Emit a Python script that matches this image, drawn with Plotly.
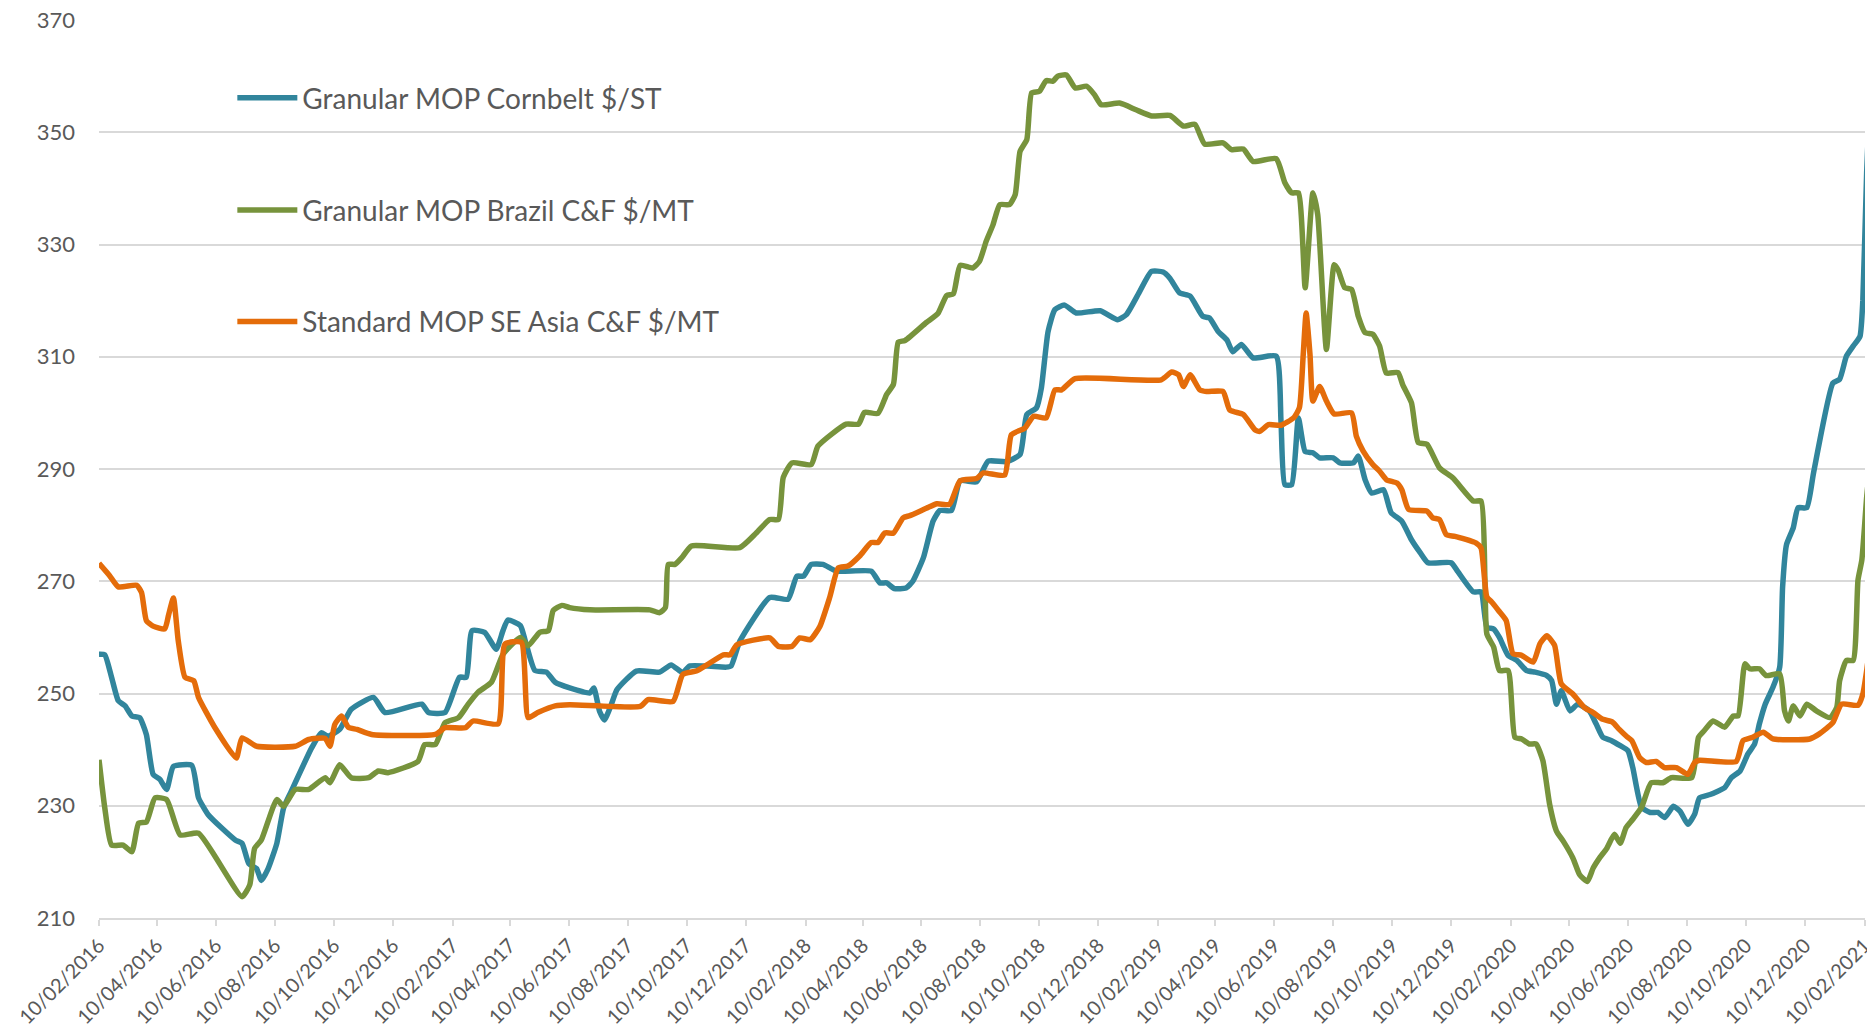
import pandas as pd
import plotly.graph_objects as go

BASE_DATE = "2016-02-10"

# ---- Granular MOP Cornbelt $/ST (days since 10/02/2016, value) ----
cornbelt_days = [0, 6, 13, 20, 27, 34, 42, 49, 56, 63, 70, 77, 96, 103, 113, 141, 148, 155, 163, 168, 175, 184, 191, 199,
                 220, 230, 237, 249, 261, 284, 296, 334, 341, 358, 373, 380, 386, 399, 411, 418, 423, 436, 441, 451, 463,
                 472, 487, 508, 512, 518, 523, 530, 536, 556, 580, 592, 604, 611, 649, 654, 663, 694, 713, 722, 729, 737,
                 749, 763, 799, 808, 815, 823, 835, 842, 853, 863, 870, 882, 891, 908, 920, 939, 953, 960, 970, 975, 982,
                 989, 999, 1011, 1036, 1054, 1063, 1077, 1089, 1101, 1108, 1118, 1129, 1142, 1149, 1158, 1167, 1173, 1182,
                 1194, 1218, 1223, 1227, 1234, 1241, 1248, 1256, 1263, 1277, 1284, 1298, 1303, 1310, 1317, 1329, 1337,
                 1348, 1358, 1367, 1375, 1399, 1406, 1422, 1430, 1436, 1443, 1449, 1458, 1467, 1477, 1486, 1498, 1503,
                 1508, 1513, 1522, 1530, 1542, 1549, 1556, 1565, 1574, 1582, 1587, 1596, 1605, 1613, 1620, 1629, 1636,
                 1644, 1651, 1656, 1667, 1675, 1682, 1689, 1698, 1706, 1713, 1718, 1724, 1732, 1739, 1742, 1746, 1753,
                 1758, 1767, 1774, 1794, 1801, 1808, 1815, 1822, 1825, 1829, 1832]
cornbelt_vals = [257, 256.9, 252.9, 248.7, 247.8, 246, 245.7, 242.7, 235.6, 234.7, 232.9, 237, 237.2, 231.4, 228.4, 223.9,
                 223.3, 219.7, 218.8, 216.7, 218.8, 223.3, 229.6, 232.6, 240.3, 243, 242.4, 243.6, 247.2, 249.3, 246.6,
                 248.1, 246.6, 246.6, 252.9, 252.9, 261.2, 260.9, 257.9, 261.2, 263.1, 262.1, 259.4, 254.1, 253.8, 252,
                 251, 250.1, 251, 246.8, 245.3, 248, 250.7, 254, 253.8, 255.1, 253.7, 254.9, 254.7, 254.9, 259.3, 267.1,
                 266.8, 270.9, 270.9, 273, 273, 271.8, 271.8, 269.7, 269.7, 268.7, 268.8, 270, 274.2, 280.7, 282.6, 282.6,
                 287.9, 287.7, 291.4, 291.3, 292.6, 299.7, 300.9, 304.4, 314.5, 318.4, 319.2, 317.8, 318.2, 316.6, 317.5,
                 321.7, 325.2, 325.1, 324, 321.4, 320.8, 317.2, 316.9, 314.5, 313, 310.9, 312.2, 309.8, 310.1, 298.5,
                 287.2, 287.2, 299.1, 293.1, 292.9, 292, 292, 291.1, 291.1, 292.3, 288.1, 285.7, 286.3, 282.2, 280.7,
                 277.4, 275.1, 273.3, 273.3, 271.7, 268.1, 268.1, 261.8, 261.5, 260, 256.8, 255.9, 254.1, 253.8, 253.2,
                 252.3, 248.1, 250.5, 246.9, 248.1, 246.9, 244.6, 242.2, 241.6, 240.7, 239.8, 236.8, 229.7, 228.8, 228.8,
                 227.9, 229.9, 229, 226.7, 228.5, 231.4, 232, 232.6, 233.2, 235, 236.2, 239.2, 241, 244.6, 248.1, 251.1,
                 254.7, 269, 276.5, 279.5, 283.1, 283.1, 289.3, 305.3, 306, 310.1, 311.9, 313.6, 320, 343, 355]

# ---- Granular MOP Brazil C&F $/MT ----
brazil_days = [0, 6, 13, 25, 34, 41, 49, 58, 70, 84, 103, 148, 156, 161, 168, 184, 191, 203, 217, 234, 239, 249, 261, 279,
               289, 299, 330, 337, 348, 358, 372, 382, 392, 406, 418, 436, 444, 456, 465, 470, 479, 487, 508, 570, 580,
               586, 589, 596, 603, 613, 663, 680, 694, 703, 708, 717, 737, 744, 773, 786, 792, 806, 815, 822, 827, 834,
               856, 868, 877, 884, 891, 904, 911, 918, 925, 932, 942, 948, 953, 960, 965, 973, 980, 987, 992, 1001, 1010,
               1022, 1030, 1037, 1056, 1073, 1089, 1108, 1122, 1134, 1144, 1163, 1172, 1184, 1194, 1218, 1227, 1234,
               1241, 1248, 1256, 1261, 1270, 1278, 1282, 1289, 1296, 1303, 1310, 1318, 1325, 1332, 1344, 1349, 1358,
               1365, 1374, 1387, 1401, 1422, 1430, 1434, 1436, 1443, 1449, 1458, 1465, 1472, 1480, 1487, 1494, 1501,
               1508, 1515, 1525, 1532, 1540, 1546, 1553, 1560, 1568, 1574, 1580, 1587, 1596, 1606, 1618, 1627, 1648,
               1655, 1661, 1670, 1682, 1691, 1696, 1703, 1708, 1718, 1725, 1739, 1744, 1748, 1753, 1760, 1767, 1777,
               1791, 1798, 1801, 1808, 1815, 1820, 1824, 1829, 1832]
brazil_vals = [238.2, 229.6, 223, 223, 221.8, 226.9, 227.1, 231.4, 231.1, 224.8, 225.1, 213.8, 215.9, 222.4, 223.9, 231.1,
               229.9, 232.9, 232.9, 235, 234.1, 237.3, 235, 235, 236.2, 235.9, 237.9, 240.9, 240.9, 244.8, 245.7, 248.1,
               250.2, 252, 257, 260, 258.5, 260.9, 261.2, 264.8, 265.7, 265.3, 264.9, 264.9, 264.4, 265.3, 273, 273,
               274.2, 276.3, 276, 278.6, 281, 281, 288.5, 291.1, 290.8, 294.1, 298, 298, 300.1, 299.9, 303.3, 305.1,
               312.6, 312.9, 316.1, 317.7, 320.9, 321.2, 326.3, 325.8, 327, 330.6, 333.5, 337.1, 337.1, 338.9, 346.6,
               348.7, 357, 357.3, 359.2, 359.1, 360, 360.2, 357.9, 358.2, 356.7, 354.9, 355.2, 354, 352.9, 353, 351.1,
               351.4, 347.9, 348.1, 346.9, 347, 344.8, 345.3, 341, 339.2, 339.2, 322.3, 339.2, 335.3, 311.3, 326.4,
               325.5, 322.3, 322, 317.2, 314.3, 314, 311.9, 307.1, 307.2, 305, 301.8, 294.7, 294.4, 290.2, 288.4, 284.3,
               284.3, 270.2, 260.6, 258.3, 254.1, 254.1, 242.2, 241.9, 241, 241, 238, 230.2, 225.5, 223.7, 220.7, 217.7,
               216.5, 218.9, 220.8, 222.4, 224.9, 223.3, 226.1, 227.6, 229.7, 234.1, 234.1, 235, 235, 242.2, 243.4,
               245.1, 244, 246, 246, 255.3, 254.4, 254.4, 253.2, 253.5, 246.9, 245.1, 247.8, 246, 248.1, 246.9, 245.7,
               247.5, 252.3, 255.9, 255.9, 270.2, 273.8, 285, 290]

# ---- Standard MOP SE Asia C&F $/MT ----
seasia_days = [0, 11, 20, 39, 44, 49, 56, 68, 72, 77, 82, 89, 98, 103, 120, 142, 148, 163, 203, 217, 234, 239, 244, 251,
               258, 267, 282, 348, 358, 379, 387, 413, 420, 437, 444, 454, 472, 487, 560, 568, 594, 604, 618, 629, 646,
               653, 660, 694, 703, 717, 725, 736, 746, 756, 765, 775, 787, 799, 806, 813, 822, 832, 839, 856, 867, 880,
               891, 908, 915, 937, 944, 958, 967, 980, 989, 996, 1010, 1099, 1110, 1117, 1122, 1129, 1139, 1146, 1163,
               1170, 1184, 1196, 1201, 1210, 1223, 1236, 1242, 1246, 1249, 1253, 1256, 1263, 1270, 1278, 1296, 1301,
               1308, 1318, 1325, 1332, 1343, 1348, 1355, 1374, 1380, 1387, 1394, 1403, 1425, 1430, 1436, 1441, 1448,
               1456, 1463, 1472, 1484, 1491, 1498, 1506, 1513, 1525, 1537, 1546, 1556, 1566, 1573, 1581, 1586, 1594,
               1601, 1611, 1620, 1632, 1644, 1651, 1656, 1694, 1701, 1711, 1722, 1732, 1770, 1780, 1794, 1803, 1820,
               1825, 1829, 1832]
seasia_vals = [273.2, 271, 269, 269.3, 268, 263, 262, 261.5, 264, 267, 259.4, 252.9, 252.3, 249.3, 243.9, 238.5, 242.1,
               240.6, 240.6, 241.8, 242, 240.6, 244.5, 246, 244, 243.6, 242.7, 242.7, 243.9, 243.9, 245.1, 244.6, 258.8,
               259.1, 245.7, 246.6, 247.8, 248, 247.7, 248.9, 248.6, 253.4, 254, 255.1, 256.9, 256.9, 258.7, 259.9,
               258.4, 258.4, 259.9, 259.6, 262, 267.1, 272.4, 272.7, 274.5, 276.9, 276.9, 278.6, 278.6, 281.3, 281.7,
               283, 283.8, 283.7, 287.9, 288.3, 289.3, 288.9, 296.1, 297.3, 299.4, 299.1, 304.1, 304.1, 306.1, 305.9,
               307.3, 306.8, 304.7, 306.8, 304.1, 303.8, 303.8, 300.5, 299.7, 297, 296.7, 297.9, 297.8, 299.1, 300.9,
               310.4, 317.8, 310.4, 302.1, 304.7, 302.1, 299.8, 300, 295.8, 293.2, 290.8, 289.6, 288.1, 287.5, 286.3,
               282.8, 282.5, 281.3, 281, 278.3, 278, 276.8, 275.9, 267.2, 266.3, 264.8, 263, 257.1, 256.8, 255.6, 258.9,
               260.3, 258.6, 251.7, 249.9, 247.5, 246.6, 245.4, 244.9, 243.6, 242.3, 241.6, 238.6, 237.7, 237.9, 236.8,
               236.8, 235.6, 237.7, 238.1, 237.9, 241.6, 242.2, 243.1, 241.9, 241.9, 242.8, 244.8, 248.1, 247.9, 249.9,
               254.1, 258]

SERIES_NAMES = ["Granular MOP Cornbelt $/ST", "Granular MOP Brazil C&F $/MT", "Standard MOP SE Asia C&F $/MT"]
SERIES_COLORS = ["#31859C", "#77933C", "#E46C0A"]

Y_TICKS = [210, 230, 250, 270, 290, 310, 330, 350, 370]


def to_dates(days):
    return pd.Timestamp(BASE_DATE) + pd.to_timedelta(days, unit="D")


series = [(cornbelt_days, cornbelt_vals), (brazil_days, brazil_vals), (seasia_days, seasia_vals)]
legend_ids = ["legend", "legend2", "legend3"]

fig = go.Figure()
for (d, v), name, color, lg in zip(series, SERIES_NAMES, SERIES_COLORS, legend_ids):
    fig.add_trace(go.Scatter(
        x=to_dates(d), y=v, mode="lines", name=name,
        line=dict(color=color, width=5.5, shape="spline", smoothing=0.5),
        legend=lg, hoverinfo="skip",
    ))

FONT = "Lato"
TXT = "#595959"
legend_common = dict(
    xanchor="left", yanchor="middle", x=0.0755,
    font=dict(family=FONT, size=28, color=TXT),
    bgcolor="rgba(0,0,0,0)", itemwidth=60, tracegroupgap=0,
)

fig.update_layout(
    width=1867, height=1032,
    margin=dict(l=99, r=2, t=20, b=114),
    paper_bgcolor="white", plot_bgcolor="white",
    showlegend=True,
    legend=dict(y=0.913, **legend_common),
    legend2=dict(y=0.788, **legend_common),
    legend3=dict(y=0.664, **legend_common),
    xaxis=dict(
        type="date",
        range=[pd.Timestamp("2016-02-10"), pd.Timestamp("2021-02-10 06:00")],
        tick0="2016-02-10", dtick="M2", tickformat="%d/%m/%Y",
        tickangle=-45, ticklabeloverflow="allow",
        tickfont=dict(family=FONT, size=20, color=TXT),
        showgrid=False,
        showline=True, linecolor="#d9d9d9", linewidth=2,
        ticks="outside", ticklen=6, tickcolor="#d9d9d9", tickwidth=2,
        zeroline=False, automargin=False,
    ),
    yaxis=dict(
        range=[210, 370], tickvals=Y_TICKS,
        tickfont=dict(family=FONT, size=22, color=TXT),
        showgrid=True, gridcolor="#d9d9d9", gridwidth=2,
        showline=False, zeroline=False, ticks="",
        ticklabelstandoff=23, automargin=False,
    ),
)

fig.write_html(
    "out.html",
    config={"displayModeBar": False},
    post_script="document.body.style.margin='0px';document.body.style.overflow='hidden';",
)
